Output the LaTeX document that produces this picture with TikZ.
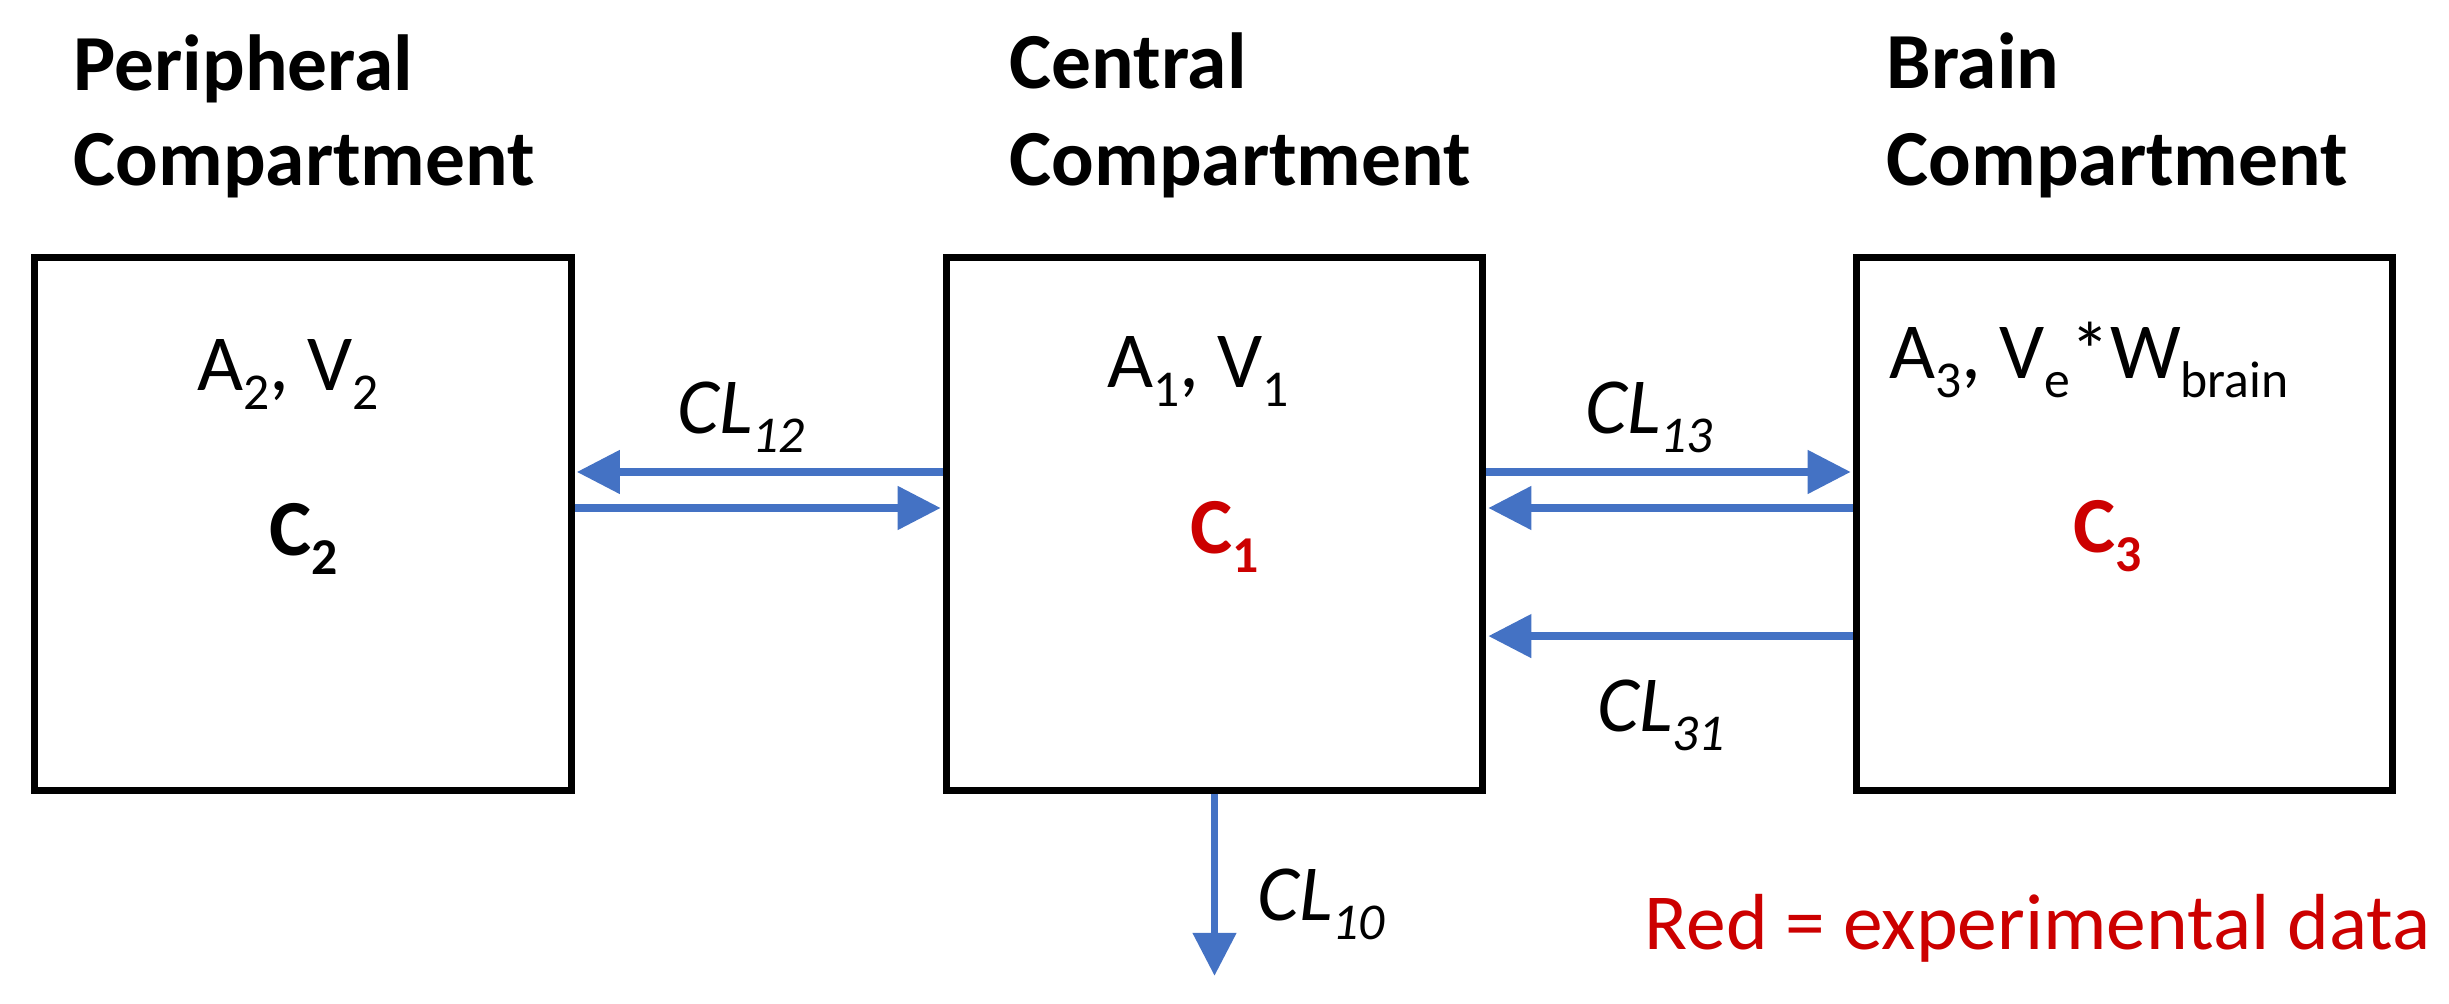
\documentclass[tikz,border=0pt]{standalone}
\usepackage{fontspec}
\setmainfont{Carlito}
\usetikzlibrary{arrows.meta}
\definecolor{arrblue}{HTML}{4472C4}
\definecolor{datared}{HTML}{CC0000}
\newcommand\sbs[1]{\raisebox{-0.24em}{\fontsize{14.7pt}{14.7pt}\selectfont #1}}
\begin{document}
\begin{tikzpicture}[x=0.01cm,y=-0.01cm,
  comp/.style={draw=black, line width=2pt, minimum width=5.36cm, minimum height=5.32cm, inner sep=0pt},
  lbl/.style={inner sep=0pt, anchor=base west, font=\fontsize{22.6pt}{27.5pt}\selectfont},
  hdr/.style={lbl, font=\fontsize{22.6pt}{27.5pt}\selectfont\bfseries},
  conc/.style={lbl, font=\fontsize{22.6pt}{27.5pt}\selectfont\bfseries},
  flow/.style={draw=arrblue, line width=2.2pt, -{Triangle[length=0.43cm,width=0.42cm]}, shorten >=0.6pt}
]
\useasboundingbox (0,0) rectangle (2449,1003);
% compartments
\node[comp] (P) at (303,524) {};
\node[comp] (C) at (1214.5,524) {};
\node[comp] (B) at (2124.5,524) {};
% headers
\node[hdr] (hP1) at (73,90) {Peripheral};
\node[hdr] (hP2) at (73,185) {Compartment};
\node[hdr] (hC1) at (1009,88) {Central};
\node[hdr] (hC2) at (1009,185) {Compartment};
\node[hdr] (hB1) at (1886,88) {Brain};
\node[hdr] (hB2) at (1886,185) {Compartment};
% contents
\node[lbl] (aP) at (197,390) {A\sbs{2}, V\sbs{2}};
\node[lbl] (aC) at (1107,387) {A\sbs{1}, V\sbs{1}};
\node[lbl] (aB) at (1889,378) {A\sbs{3}, V\sbs{e}*W\sbs{brain}};
\node[conc] (cP) at (269,555) {C\sbs{2}};
\node[conc, text=datared] (cC) at (1190,553) {C\sbs{1}};
\node[conc, text=datared] (cB) at (2073,552) {C\sbs{3}};
% flows
\draw[flow] ([yshift=0.52cm]C.west) -- ([yshift=0.52cm]P.east);
\draw[flow] ([yshift=0.16cm]P.east) -- ([yshift=0.16cm]C.west);
\draw[flow] ([yshift=0.52cm]C.east) -- ([yshift=0.52cm]B.west);
\draw[flow] ([yshift=0.16cm]B.west) -- ([yshift=0.16cm]C.east);
\draw[flow] ([yshift=-1.12cm]B.west) -- ([yshift=-1.12cm]C.east);
\coordinate (sink) at (1214.5,978);
\draw[flow] (C.south) -- (sink);
% flow labels
\node[lbl] (l12) at (677,433) {\itshape CL\sbs{12}};
\node[lbl] (l13) at (1585,433) {\itshape CL\sbs{13}};
\node[lbl] (l31) at (1597,731) {\itshape CL\sbs{31}};
\node[lbl] (l10) at (1257,920) {\itshape CL\sbs{10}};
% legend
\node[lbl, text=datared] (leg) at (1644,949) {Red = experimental data};
\end{tikzpicture}
\end{document}
